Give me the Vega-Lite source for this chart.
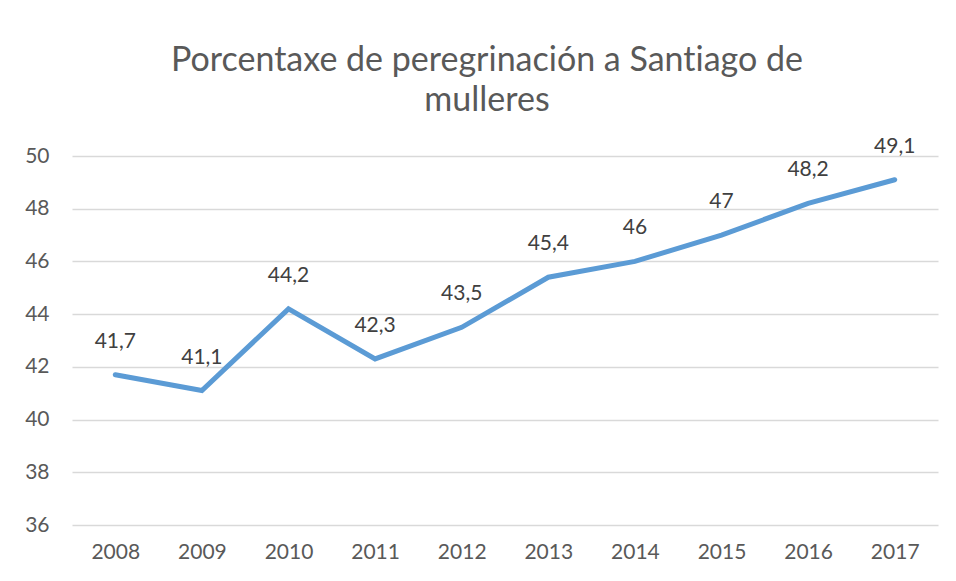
{
  "$schema": "https://vega.github.io/schema/vega-lite/v6.json",
  "autosize": "none",
  "width": 866,
  "height": 369,
  "padding": {"left": 72, "top": 156, "right": 18, "bottom": 56},
  "background": "white",
  "config": {
    "view": {"stroke": null},
    "font": "Lato",
    "locale": {"number": {"decimal": ",", "thousands": ".", "grouping": [3], "currency": ["", " €"]}}
  },
  "title": {
    "text": ["Porcentaxe de peregrinación a Sant\u200Ciago de", "mulleres"],
    "fontSize": 34,
    "font": "Lato",
    "fontWeight": "normal",
    "color": "#595959",
    "anchor": "middle",
    "dx": -18,
    "offset": 18,
    "lineHeight": 40
  },
  "data": {
    "values": [
      {"year": "2008", "value": 41.7},
      {"year": "2009", "value": 41.1},
      {"year": "2010", "value": 44.2},
      {"year": "2011", "value": 42.3},
      {"year": "2012", "value": 43.5},
      {"year": "2013", "value": 45.4},
      {"year": "2014", "value": 46},
      {"year": "2015", "value": 47},
      {"year": "2016", "value": 48.2},
      {"year": "2017", "value": 49.1}
    ]
  },
  "encoding": {
    "x": {
      "field": "year",
      "type": "ordinal",
      "scale": {"type": "point", "padding": 0.5},
      "axis": {
        "title": null,
        "labelAngle": 0,
        "ticks": false,
        "domain": false,
        "labelFontSize": 21,
        "labelColor": "#595959",
        "labelPadding": 16
      }
    },
    "y": {
      "field": "value",
      "type": "quantitative",
      "scale": {"domain": [36, 50], "nice": false, "zero": false},
      "axis": {
        "title": null,
        "values": [36, 38, 40, 42, 44, 46, 48, 50],
        "ticks": false,
        "domain": false,
        "grid": true,
        "gridColor": "#D9D9D9",
        "gridWidth": 1.3,
        "labelFontSize": 21,
        "labelColor": "#595959",
        "labelPadding": 23
      }
    }
  },
  "layer": [
    {
      "mark": {"type": "line", "color": "#5B9BD5", "strokeWidth": 5, "strokeCap": "round", "strokeJoin": "miter"}
    },
    {
      "mark": {"type": "text", "dy": -33, "fontSize": 21, "color": "#404040", "baseline": "middle"},
      "encoding": {"text": {"field": "value", "type": "quantitative", "format": ".3~r"}}
    }
  ]
}
